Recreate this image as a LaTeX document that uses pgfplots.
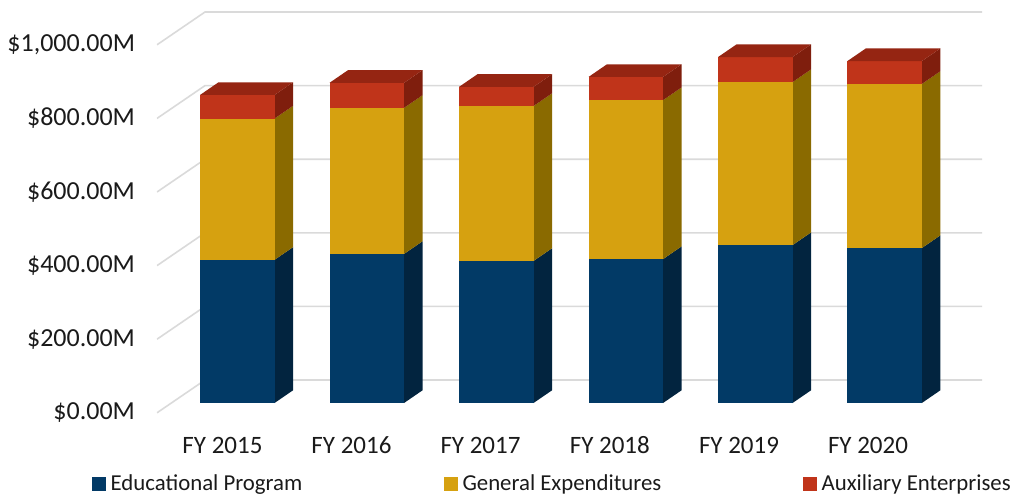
\documentclass[border=0pt]{standalone}
\usepackage{pgfplots}
\pgfplotsset{compat=1.18}
\usepackage{fontspec}
\setmainfont{Carlito}
\definecolor{bluef}{HTML}{023A66}
\definecolor{blues}{HTML}{02243F}
\definecolor{goldf}{HTML}{D6A110}
\definecolor{golds}{HTML}{8A6A00}
\definecolor{redf}{HTML}{C0341A}
\definecolor{reds}{HTML}{7F1E0D}
\definecolor{redt}{HTML}{952512}
\definecolor{gridc}{HTML}{DADADA}
\definecolor{txt}{HTML}{1A1A1A}
% #1 left edge (x position), #2 lower level, #3 upper level, #4 front colour, #5 side colour
\newcommand\cube[5]{%
  \pgfmathsetmacro\xb{#1+74.5}%
  \pgfmathsetmacro\xc{#1+93}%
  \pgfmathsetmacro\ya{#2+34.5}%
  \pgfmathsetmacro\yb{#3+34.5}%
  \addplot[fill=#5,draw=none,forget plot] coordinates {(\xb,#2)(\xc,\ya)(\xc,\yb)(\xb,#3)} --cycle;
  \addplot[fill=#4,draw=none,forget plot] coordinates {(#1,#2)(\xb,#2)(\xb,#3)(#1,#3)} --cycle;
}
% #1 left edge, #2 total
\newcommand\cubetop[2]{%
  \pgfmathsetmacro\xb{#1+74.5}%
  \pgfmathsetmacro\xc{#1+93}%
  \pgfmathsetmacro\xd{#1+18.5}%
  \pgfmathsetmacro\yb{#2+34.5}%
  \addplot[fill=redt,draw=none,forget plot] coordinates {(#1,#2)(\xb,#2)(\xc,\yb)(\xd,\yb)} --cycle;
}
% #1 left edge, #2 educational, #3 educational+general, #4 total
\newcommand\fybar[4]{%
  \cube{#1}{0}{#2}{bluef}{blues}%
  \cube{#1}{#2}{#3}{goldf}{golds}%
  \cube{#1}{#3}{#4}{redf}{reds}%
  \cubetop{#1}{#4}%
}
\begin{document}
\begin{tikzpicture}
\useasboundingbox (0,0) rectangle (760.5pt,370.5pt);
\begin{axis}[
  at={(117.75pt,52.5pt)}, anchor=south west,
  scale only axis, width=618.75pt, height=312pt,
  xmin=157, xmax=982, ymin=-57, ymax=1073.4,
  axis line style={draw=none},
  tick style={draw=none},
  ytick={-26.6,173.4,373.4,573.4,773.4,973.4},
  yticklabels={{\$0.00M},{\$200.00M},{\$400.00M},{\$600.00M},{\$800.00M},{\$1,000.00M}},
  xtick={222.5,351.5,480.5,609.8,739,868},
  xticklabels={FY 2015,FY 2016,FY 2017,FY 2018,FY 2019,FY 2020},
  yticklabel style={xshift=-13pt, font=\fontsize{19.5pt}{21pt}\selectfont, text=txt},
  xticklabel style={yshift=-5.5pt, text height=13pt, text depth=0pt, font=\fontsize{18.75pt}{20pt}\selectfont, text=txt},
  legend style={
    at={(-48.4pt,-45pt)}, anchor=west, draw=none, fill=none,
    font=\fontsize{17.1pt}{19pt}\selectfont, text=txt,
    legend columns=3, inner sep=0pt, outer sep=0pt,
    /tikz/every even column/.style={column sep=104.5pt},
    /tikz/every odd column/.style={column sep=1.5pt},
  },
]
% wall and floor lines
\addplot[gridc,line width=1.2pt,forget plot] coordinates {(157,-26.6)(205,62.5)(982,62.5)};
\addplot[gridc,line width=1.2pt,forget plot] coordinates {(157,173.4)(205,262.5)(982,262.5)};
\addplot[gridc,line width=1.2pt,forget plot] coordinates {(157,373.4)(205,462.5)(982,462.5)};
\addplot[gridc,line width=1.2pt,forget plot] coordinates {(157,573.4)(205,662.5)(982,662.5)};
\addplot[gridc,line width=1.2pt,forget plot] coordinates {(157,773.4)(205,862.5)(982,862.5)};
\addplot[gridc,line width=1.2pt,forget plot] coordinates {(157,973.4)(205,1062.5)(982,1062.5)};
% bars
\fybar{200}{389}{773}{837}
\fybar{329.5}{405}{802}{870}
\fybar{459}{386}{807}{859}
\fybar{588.5}{391}{823}{886}
\fybar{718}{429}{872}{940}
\fybar{847.3}{421}{867}{929}
% legend
\addlegendimage{legend image code/.code={\fill[bluef] (0pt,-4.9pt) rectangle (9.75pt,4.9pt);}}
\addlegendentry{Educational Program}
\addlegendimage{legend image code/.code={\fill[goldf] (0pt,-4.9pt) rectangle (9.75pt,4.9pt);}}
\addlegendentry{General Expenditures}
\addlegendimage{legend image code/.code={\fill[redf] (0pt,-4.9pt) rectangle (9.75pt,4.9pt);}}
\addlegendentry{Auxiliary Enterprises}
\end{axis}
\end{tikzpicture}
\end{document}
